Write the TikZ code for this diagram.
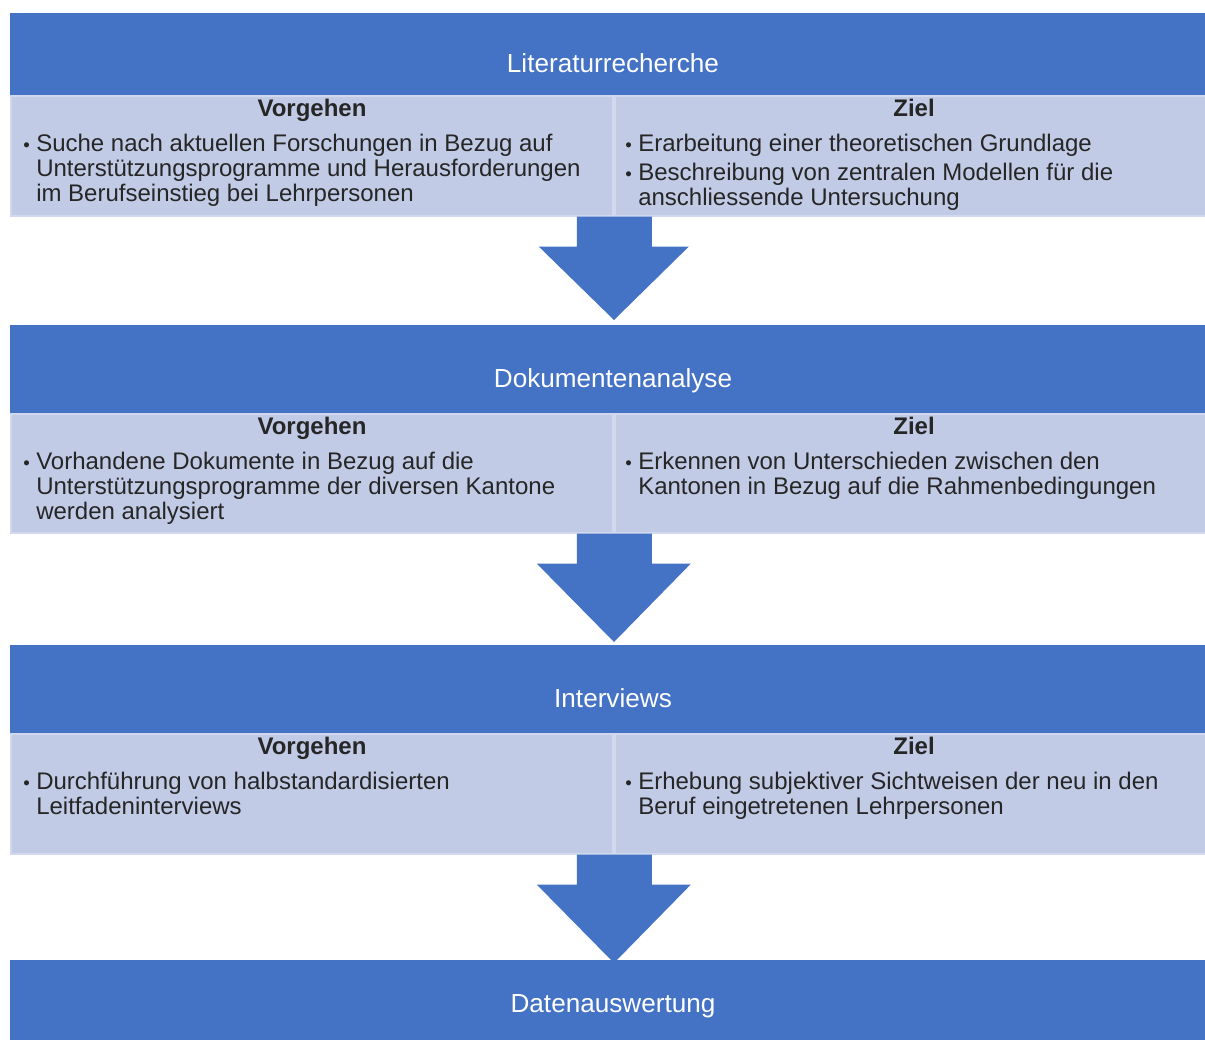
\documentclass[tikz,border=0pt]{standalone}
\usepackage{fontspec}
\setmainfont{Liberation Sans}
\usetikzlibrary{calc}
\definecolor{hdr}{HTML}{4472C4}
\definecolor{pnl}{HTML}{C2CBE6}
\definecolor{pnledge}{HTML}{D2D8EE}
\tikzset{
  hdrbox/.style={fill=hdr, draw=none, anchor=north west, inner sep=0, minimum width=1206*0.75pt},
  pnlbox/.style={fill=pnl, draw=pnledge, line width=1.2pt, anchor=north west, inner sep=0},
  hdrtxt/.style={text=white, font=\fontsize{19.6}{22}\selectfont, anchor=base, inner sep=0},
  headtxt/.style={font=\bfseries\fontsize{18}{21}\selectfont, anchor=base, inner sep=0, text=black!85},
  bodytxt/.style={font=\fontsize{18}{19}\selectfont, anchor=base west, inner sep=0, text=black!85},
  bul/.style={font=\fontsize{14}{16}\selectfont, anchor=base west, inner sep=0, text=black!85},
  blockarrow/.style={fill=hdr, draw=none}
}
\newcommand\lines[1]{\vtop{\baselineskip=19.1pt #1}}
\newcommand\blockarr[3]{%
  \fill[blockarrow] ($(#1)+(-37,0)$) -- ($(#1)+(38,0)$) -- ($(#1)+(38,30)$) -- ($(#1)+(#3,30)$)
    -- (#2) -- ($(#1)+(-#3,30)$) -- ($(#1)+(-37,30)$) -- cycle;}
\begin{document}
\begin{tikzpicture}[x=0.75pt, y=-0.75pt]
\useasboundingbox (0,0) rectangle (1205,1039);
\clip (0,0) rectangle (1205,1039);

% ---------- Stage 1
\node[hdrbox, minimum height=82*0.75pt] (h1) at (10,13) {};
\node[hdrtxt] (h1t) at (613,72) {Literaturrecherche};
\node[pnlbox, minimum width=602*0.75pt, minimum height=120*0.75pt] (p1l) at (10,95) {};
\node[pnlbox, minimum width=601*0.75pt, minimum height=120*0.75pt] (p1r) at (614,95) {};
\node[headtxt] (p1lh) at (312,116) {Vorgehen};
\node[headtxt] (p1rh) at (914,116) {Ziel};
\node[bul] (p1lb1) at (23,151) {•};
\node[bodytxt] (p1lt1) at (36,151) {\lines{\hbox{Suche nach aktuellen Forschungen in Bezug auf}\hbox{Unterstützungsprogramme und Herausforderungen}\hbox{im Berufseinstieg bei Lehrpersonen}}};
\node[bul] (p1rb1) at (625,151) {•};
\node[bodytxt] (p1rt1) at (638,151) {Erarbeitung einer theoretischen Grundlage};
\node[bul] (p1rb2) at (625,180) {•};
\node[bodytxt] (p1rt2) at (638,180) {\lines{\hbox{Beschreibung von zentralen Modellen für die}\hbox{anschliessende Untersuchung}}};

% ---------- Stage 2
\node[hdrbox, minimum height=88*0.75pt] (h2) at (10,325) {};
\node[hdrtxt] (h2t) at (613,387) {Dokumentenanalyse};
\node[pnlbox, minimum width=602*0.75pt, minimum height=119*0.75pt] (p2l) at (10,413) {};
\node[pnlbox, minimum width=601*0.75pt, minimum height=119*0.75pt] (p2r) at (614,413) {};
\node[headtxt] (p2lh) at (312,434) {Vorgehen};
\node[headtxt] (p2rh) at (914,434) {Ziel};
\node[bul] (p2lb1) at (23,469) {•};
\node[bodytxt] (p2lt1) at (36,469) {\lines{\hbox{Vorhandene Dokumente in Bezug auf die}\hbox{Unterstützungsprogramme der diversen Kantone}\hbox{werden analysiert}}};
\node[bul] (p2rb1) at (625,469) {•};
\node[bodytxt] (p2rt1) at (638,469) {\lines{\hbox{Erkennen von Unterschieden zwischen den}\hbox{Kantonen in Bezug auf die Rahmenbedingungen}}};

% ---------- Stage 3
\node[hdrbox, minimum height=88*0.75pt] (h3) at (10,645) {};
\node[hdrtxt] (h3t) at (613,707) {Interviews};
\node[pnlbox, minimum width=602*0.75pt, minimum height=120*0.75pt] (p3l) at (10,733) {};
\node[pnlbox, minimum width=601*0.75pt, minimum height=120*0.75pt] (p3r) at (614,733) {};
\node[headtxt] (p3lh) at (312,754) {Vorgehen};
\node[headtxt] (p3rh) at (914,754) {Ziel};
\node[bul] (p3lb1) at (23,789) {•};
\node[bodytxt] (p3lt1) at (36,789) {\lines{\hbox{Durchführung von halbstandardisierten}\hbox{Leitfadeninterviews}}};
\node[bul] (p3rb1) at (625,789) {•};
\node[bodytxt] (p3rt1) at (638,789) {\lines{\hbox{Erhebung subjektiver Sichtweisen der neu in den}\hbox{Beruf eingetretenen Lehrpersonen}}};

% ---------- Stage 4
\node[hdrbox, minimum height=90*0.75pt] (h4) at (10,960) {};
\node[hdrtxt] (h4t) at (613,1012) {Datenauswertung};

% ---------- Block arrows between stages
\coordinate (a1s) at ($(p1l.south east)!0.5!(p1r.south west)$);
\coordinate (a1e) at (614,320);
\coordinate (a2s) at ($(p2l.south east)!0.5!(p2r.south west)$);
\coordinate (a2e) at (614,642);
\coordinate (a3s) at ($(p3l.south east)!0.5!(p3r.south west)$);
\coordinate (a3e) at (614,963);
\blockarr{a1s}{a1e}{75}
\blockarr{a2s}{a2e}{77}
\blockarr{a3s}{a3e}{77}
\end{tikzpicture}
\end{document}
